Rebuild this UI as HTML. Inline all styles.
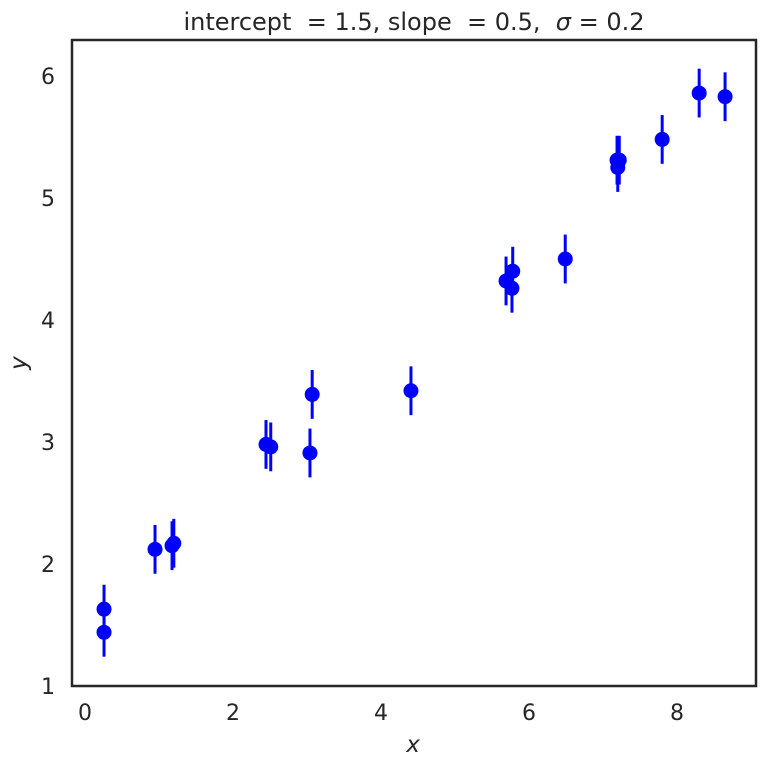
<!DOCTYPE html>
<html><head><meta charset="utf-8"><style>
body{margin:0;background:#fff;}
svg text{font-family:"DejaVu Sans","Liberation Sans",sans-serif;fill:#262626;}
</style></head><body>
<svg id="chart" width="766" height="766">
<text x="414" y="30" font-size="24" text-anchor="middle" xml:space="preserve">intercept  = 1.5, slope  = 0.5,  <tspan font-style="italic">σ</tspan> = 0.2</text>
<g id="marks"></g>
<g id="axes"></g>
<rect x="72" y="40" width="684" height="646" fill="none" stroke="#262626" stroke-width="2.5"/>
<text x="413" y="752" font-size="23" font-style="italic" text-anchor="middle">x</text>
<text x="0" y="0" font-size="23" font-style="italic" text-anchor="middle" transform="translate(26,363) rotate(-90)">y</text>
</svg>
<script>
const xs=[0.257,0.257,0.946,1.176,1.20,2.446,2.51,3.04,3.07,4.405,5.69,5.78,5.77,6.49,7.19,7.22,7.20,7.80,8.30,8.65];
const ys=[1.44,1.63,2.12,2.15,2.17,2.98,2.96,2.91,3.39,3.42,4.32,4.40,4.26,4.50,5.31,5.31,5.25,5.48,5.86,5.83];
const sigma=0.2;
const xTicks=[0,2,4,6,8];
const yTicks=[1,2,3,4,5,6];
const X0=72,X1=756,Y0=686,Y1=40,xmin=-0.176,xmax=9.068,ymin=1,ymax=6.295;
const sx=v=>X0+(v-xmin)/(xmax-xmin)*(X1-X0);
const sy=v=>Y0-(v-ymin)/(ymax-ymin)*(Y0-Y1);
const NS="http://www.w3.org/2000/svg";
const marks=document.getElementById('marks'),axes=document.getElementById('axes');
xs.forEach((x,i)=>{
 const l=document.createElementNS(NS,'line');
 l.setAttribute('x1',sx(x));l.setAttribute('x2',sx(x));
 l.setAttribute('y1',sy(ys[i]-sigma));l.setAttribute('y2',sy(ys[i]+sigma));
 l.setAttribute('stroke','#0000ff');l.setAttribute('stroke-width','3');
 
 
 marks.appendChild(l);
});
xs.forEach((x,i)=>{
 const c=document.createElementNS(NS,'circle');
 c.setAttribute('cx',sx(x));c.setAttribute('cy',sy(ys[i]));c.setAttribute('r','7.5');
 c.setAttribute('fill','#0000ff');
 
 
 marks.appendChild(c);
});
xTicks.forEach(t=>{
 const tx=document.createElementNS(NS,'text');
 tx.setAttribute('x',sx(t));tx.setAttribute('y',720);tx.setAttribute('font-size','22');tx.setAttribute('text-anchor','middle');
 tx.textContent=t;
 
 
 axes.appendChild(tx);
});
yTicks.forEach(t=>{
 const tx=document.createElementNS(NS,'text');
 tx.setAttribute('x',55);tx.setAttribute('y',sy(t)+8);tx.setAttribute('font-size','22');tx.setAttribute('text-anchor','end');
 tx.textContent=t;
 
 
 axes.appendChild(tx);
});
</script>
</body></html>
